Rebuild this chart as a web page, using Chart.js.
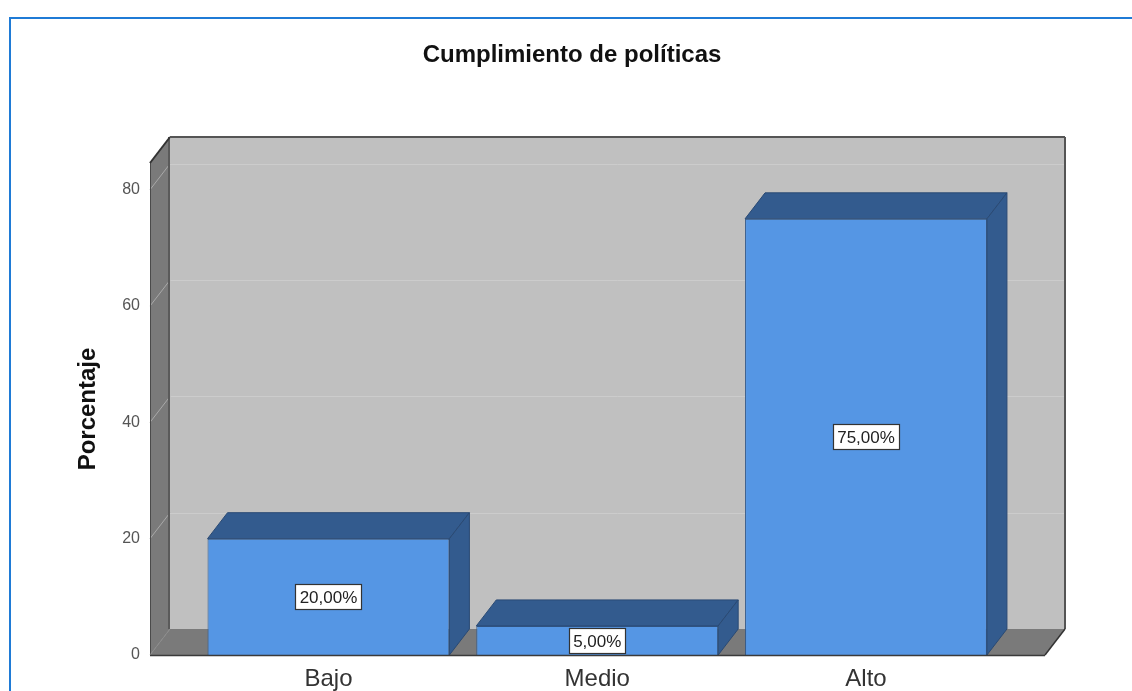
<!DOCTYPE html>
<html>
<head>
<meta charset="utf-8">
<script src="https://cdn.jsdelivr.net/npm/chart.js@4/dist/chart.umd.min.js"></script>
<style>
html, body { margin: 0; padding: 0; background: #ffffff; }
#wrap { width: 1132px; height: 691px; }
</style>
</head>
<body>
<div id="wrap"><canvas id="c" width="1132" height="691"></canvas></div>
<script>
// ---- data ----
const categories = ['Bajo', 'Medio', 'Alto'];
const percentages = [20, 5, 75];
const yTickValues = [0, 20, 40, 60, 80];
const chartTitle = 'Cumplimiento de políticas';
const yAxisTitle = 'Porcentaje';

// ---- style ----
const FONT = 'Arial, "Liberation Sans", Helvetica, sans-serif';
const DEPTH_X = 20, DEPTH_Y = 26;
const FRONT_BLUE = '#5596e4';
const DARK_BLUE = '#335b8e';
const WALL_GRAY = '#7a7a7a';
const BACK_GRAY = '#c0c0c0';

function poly(ctx, pts, fill, stroke, lw) {
  ctx.beginPath();
  ctx.moveTo(pts[0][0], pts[0][1]);
  for (let i = 1; i < pts.length; i++) ctx.lineTo(pts[i][0], pts[i][1]);
  ctx.closePath();
  if (fill) { ctx.fillStyle = fill; ctx.fill(); }
  if (stroke) { ctx.strokeStyle = stroke; ctx.lineWidth = lw || 1; ctx.stroke(); }
}
function line(ctx, x1, y1, x2, y2, color, lw) {
  ctx.beginPath();
  ctx.moveTo(x1, y1); ctx.lineTo(x2, y2);
  ctx.strokeStyle = color; ctx.lineWidth = lw || 1; ctx.stroke();
}

const threeD = {
  id: 'threeD',
  beforeDraw(chart) {
    const ctx = chart.ctx;
    ctx.save();
    ctx.fillStyle = '#ffffff';
    ctx.fillRect(0, 0, chart.width, chart.height);
    ctx.beginPath();
    ctx.moveTo(10, chart.height);
    ctx.lineTo(10, 18);
    ctx.lineTo(chart.width, 18);
    ctx.strokeStyle = '#1f7bd6';
    ctx.lineWidth = 2;
    ctx.stroke();
    ctx.restore();
  },
  beforeDatasetsDraw(chart) {
    const ctx = chart.ctx, a = chart.chartArea, y = chart.scales.y;
    const dx = DEPTH_X, dy = DEPTH_Y;
    ctx.save();
    // back wall
    ctx.fillStyle = BACK_GRAY;
    ctx.fillRect(a.left + dx, a.top - dy, a.right - a.left, a.bottom - a.top);
    // gridlines on back wall
    yTickValues.forEach(v => {
      if (v === 0) return;
      const py = Math.round(y.getPixelForValue(v)) + 0.5;
      line(ctx, a.left + dx, py - dy, a.right + dx, py - dy, '#cccccc', 1);
    });
    // left wall
    poly(ctx, [[a.left, a.top], [a.left + dx, a.top - dy], [a.left + dx, a.bottom - dy], [a.left, a.bottom]], WALL_GRAY);
    // floor
    poly(ctx, [[a.left, a.bottom], [a.right, a.bottom], [a.right + dx, a.bottom - dy], [a.left + dx, a.bottom - dy]], WALL_GRAY);
    // gridline diagonals on left wall
    yTickValues.forEach(v => {
      if (v === 0) return;
      const py = y.getPixelForValue(v);
      line(ctx, a.left, py, a.left + dx, py - dy, '#a9a9a9', 1);
    });
    // edges
    line(ctx, a.left + dx - 1, a.top - dy, a.left + dx - 1, a.bottom - dy, '#5a5a5a', 2);
    line(ctx, a.left + 0.5, a.top, a.left + 0.5, a.bottom, '#4a4a4a', 1);
    line(ctx, a.left, a.top, a.left + dx, a.top - dy, '#333333', 2);
    line(ctx, a.left + dx, a.top - dy, a.right + dx, a.top - dy, '#555555', 2);
    line(ctx, a.right + dx, a.top - dy, a.right + dx, a.bottom - dy, '#555555', 2);
    line(ctx, a.right, a.bottom, a.right + dx, a.bottom - dy, '#333333', 1.5);
    line(ctx, a.left, a.bottom, a.left + dx, a.bottom - dy, '#8a8a8a', 1);
    ctx.restore();
  },
  afterDatasetsDraw(chart) {
    const ctx = chart.ctx, a = chart.chartArea;
    const dx = DEPTH_X, dy = DEPTH_Y;
    const meta = chart.getDatasetMeta(0);
    ctx.save();
    meta.data.forEach((el, i) => {
      const p = el.getProps(['x', 'y', 'base', 'width'], true);
      const x0 = p.x - p.width / 2, x1 = p.x + p.width / 2;
      const top = p.y, base = p.base;
      poly(ctx, [[x0, top], [x1, top], [x1 + dx, top - dy], [x0 + dx, top - dy]], DARK_BLUE, '#2a4a74', 1);
      poly(ctx, [[x1, top], [x1 + dx, top - dy], [x1 + dx, base - dy], [x1, base]], DARK_BLUE, '#2a4a74', 1);
    });
    line(ctx, a.left, a.bottom + 0.5, a.right, a.bottom + 0.5, '#3a3a3a', 1.5);
    // value labels
    ctx.font = '17px ' + FONT;
    ctx.textAlign = 'center';
    ctx.textBaseline = 'middle';
    meta.data.forEach((el, i) => {
      const p = el.getProps(['x', 'y', 'base'], true);
      const txt = percentages[i].toFixed(2).replace('.', ',') + '%';
      const w = Math.round(ctx.measureText(txt).width + 8), h = 25;
      const bx = Math.round(p.x - w / 2) + 0.5, by = Math.round((p.y + p.base) / 2 - h / 2) + 0.5;
      ctx.fillStyle = '#ffffff';
      ctx.fillRect(bx, by, w, h);
      ctx.strokeStyle = '#333333';
      ctx.lineWidth = 1.2;
      ctx.strokeRect(bx, by, w, h);
      ctx.fillStyle = '#222222';
      ctx.fillText(txt, p.x, by + h / 2 + 1);
    });
    ctx.restore();
  }
};

new Chart(document.getElementById('c'), {
  type: 'bar',
  data: {
    datasets: [{
      data: percentages.map((v, i) => ({ x: i, y: v })),
      backgroundColor: FRONT_BLUE,
      borderColor: '#34598a',
      borderWidth: 1,
      barPercentage: 0.9,
      categoryPercentage: 1.0
    }]
  },
  options: {
    responsive: false,
    animation: false,
    layout: { padding: { left: 12, right: 0, top: 0, bottom: 0 } },
    plugins: {
      legend: { display: false },
      tooltip: { enabled: false },
      title: {
        display: true,
        text: chartTitle,
        color: '#111111',
        font: { family: FONT, size: 24, weight: 'bold' },
        padding: { top: 40.6, bottom: 93.6 }
      }
    },
    scales: {
      x: {
        type: 'linear',
        offset: false,
        min: -0.664,
        max: 2.666,
        grid: { display: false, drawTicks: false, tickLength: 0, offset: false },
        border: { display: false },
        afterBuildTicks: (scale) => { scale.ticks = categories.map((c, i) => ({ value: i })); },
        afterFit: (scale) => { scale.height = 36; },
        ticks: {
          padding: 10,
          color: '#333333',
          font: { family: FONT, size: 24 },
          maxRotation: 0,
          autoSkip: false,
          callback: (v) => categories[v] !== undefined ? categories[v] : ''
        }
      },
      y: {
        type: 'linear',
        min: 0,
        max: 84.6,
        grid: { display: false, drawTicks: false, tickLength: 0 },
        border: { display: false },
        afterBuildTicks: (scale) => { scale.ticks = yTickValues.map(v => ({ value: v })); },
        afterFit: (scale) => { scale.width = 138; },
        ticks: {
          padding: 10,
          color: '#555555',
          font: { family: FONT, size: 16 },
          callback: (v) => String(v)
        },
        title: {
          display: true,
          text: yAxisTitle,
          color: '#111111',
          font: { family: FONT, size: 24, weight: 'bold' },
          padding: { top: 61.6, bottom: 0 }
        }
      },
      yRight: {
        type: 'linear',
        position: 'right',
        display: true,
        grid: { display: false, drawTicks: false },
        border: { display: false },
        ticks: { display: false },
        afterFit: (scale) => { scale.width = 87; }
      }
    }
  },
  plugins: [threeD]
});
</script>
</body>
</html>
